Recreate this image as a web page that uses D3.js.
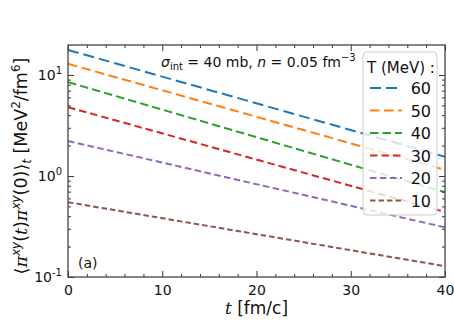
<!DOCTYPE html>
<html>
<head>
<meta charset="utf-8">
<script src="https://cdn.jsdelivr.net/npm/d3@7"></script>
<style>
	body { margin: 0; background: #fff; }
	text { font-family: "DejaVu Sans", sans-serif; fill: #111; }
</style>
</head>
<body>
<div id="idContent"></div>
<script>
// values, t = 0 and t = 40 fm/c
var aTimes = [0, 40];
var aTemps = ["60", "50", "40", "30", "20", "10"];
var aCorr60 = [17.7, 1.55];
var aCorr50 = [12.9, 1.15];
var aCorr40 = [8.5, 0.69];
var aCorr30 = [4.8, 0.44];
var aCorr20 = [2.22, 0.31];
var aCorr10 = [0.55, 0.128];
var aXTicks = [0, 10, 20, 30, 40];
var aYTicks = [0.1, 1, 10];

var aSeries = [aCorr60, aCorr50, aCorr40, aCorr30, aCorr20, aCorr10];
var aColors = ["#1f77b4", "#ff7f0e", "#2ca02c", "#d62728", "#9467bd", "#8c564b"];
var aDashes = ["11,5", "9.5,4.5", "8.5,4", "7.5,4", "6.5,3.5", "5.5,3"];

var margin = { top: 45, right: 9, bottom: 46, left: 68 },
	width = 454 - margin.left - margin.right,
	height = 323 - margin.top - margin.bottom;

var x = d3.scaleLinear().domain([0, 40]).range([0, width]);
var y = d3.scaleLog().domain([0.1, 19.8]).range([height, 0]);

var svg = d3.select("#idContent").append("svg")
	.attr("width", 454)
	.attr("height", 323);

var oChart = svg.append("g")
	.attr("transform", "translate(" + margin.left + "," + margin.top + ")");

// lines
var line = d3.line()
	.x(function (d, i) { return x(aTimes[i]); })
	.y(function (d) { return y(d); });

aSeries.forEach(function (s, i) {
	oChart.append("path")
		.datum(s)
		.attr("d", line)
		.attr("fill", "none")
		.attr("stroke", aColors[i])
		.attr("stroke-width", 2)
		.attr("stroke-dasharray", aDashes[i]);
});

// minor ticks
var aXMinor = d3.range(0, 40.1, 2).filter(function (v) { return v % 10 != 0; });
var aYMinor = [];
[0.1, 1, 10].forEach(function (p) {
	for (var k = 2; k <= 9; k++) {
		if (p * k < 19.8) aYMinor.push(p * k);
	}
});

function tickAxis(oAxis) {
	oAxis.select(".domain").remove();
	oAxis.selectAll(".tick line").attr("stroke", "#333").attr("stroke-width", 1);
}

var fmtNone = function () { return ""; };

// bottom / top
oChart.append("g")
	.attr("transform", "translate(0," + height + ")")
	.call(d3.axisBottom(x).tickValues(aXTicks).tickSizeInner(-6).tickSizeOuter(0).tickPadding(8))
	.call(tickAxis)
	.selectAll("text").attr("font-size", 14).attr("fill", "#111");
oChart.append("g")
	.attr("transform", "translate(0," + height + ")")
	.call(d3.axisBottom(x).tickValues(aXMinor).tickSizeInner(-3).tickSizeOuter(0).tickFormat(fmtNone))
	.call(tickAxis);
oChart.append("g")
	.call(d3.axisTop(x).tickValues(aXTicks).tickSizeInner(-6).tickSizeOuter(0).tickFormat(fmtNone))
	.call(tickAxis);
oChart.append("g")
	.call(d3.axisTop(x).tickValues(aXMinor).tickSizeInner(-3).tickSizeOuter(0).tickFormat(fmtNone))
	.call(tickAxis);

// left / right
oChart.append("g")
	.call(d3.axisLeft(y).tickValues(aYTicks).tickSizeInner(-6).tickSizeOuter(0).tickFormat(fmtNone))
	.call(tickAxis);
oChart.append("g")
	.call(d3.axisLeft(y).tickValues(aYMinor).tickSizeInner(-3).tickSizeOuter(0).tickFormat(fmtNone))
	.call(tickAxis);
oChart.append("g")
	.attr("transform", "translate(" + width + ",0)")
	.call(d3.axisRight(y).tickValues(aYTicks).tickSizeInner(-6).tickSizeOuter(0).tickFormat(fmtNone))
	.call(tickAxis);
oChart.append("g")
	.attr("transform", "translate(" + width + ",0)")
	.call(d3.axisRight(y).tickValues(aYMinor).tickSizeInner(-3).tickSizeOuter(0).tickFormat(fmtNone))
	.call(tickAxis);

// y tick labels as 10^n
aYTicks.forEach(function (v) {
	var t = oChart.append("text")
		.attr("x", -6)
		.attr("y", y(v) + 5)
		.attr("text-anchor", "end")
		.attr("font-size", 14);
	t.append("tspan").text("10");
	t.append("tspan").attr("dy", -6).attr("font-size", 10).text(Math.round(Math.log10(v)));
});

// frame
oChart.append("rect")
	.attr("width", width)
	.attr("height", height)
	.attr("fill", "none")
	.attr("stroke", "#444")
	.attr("stroke-width", 1.3);

// annotation
var oNote = oChart.append("text")
	.attr("x", 93)
	.attr("y", 22)
	.attr("font-size", 14);
oNote.append("tspan").attr("font-style", "italic").text("σ");
oNote.append("tspan").attr("dy", 3).attr("font-size", 10).text("int");
oNote.append("tspan").attr("dy", -3).text(" = 40 mb,  ");
oNote.append("tspan").attr("font-style", "italic").text("n");
oNote.append("tspan").text(" = 0.05 fm");
oNote.append("tspan").attr("dy", -6).attr("font-size", 10).text("−3");

oChart.append("text")
	.attr("x", 10)
	.attr("y", height - 9)
	.attr("font-size", 14)
	.text("(a)");

// legend
var oLegend = oChart.append("g").attr("transform", "translate(" + (363 - margin.left) + "," + (52 - margin.top) + ")");
oLegend.append("rect")
	.attr("width", 74)
	.attr("height", 163)
	.attr("rx", 4)
	.attr("fill", "#fff")
	.attr("fill-opacity", 0.8)
	.attr("stroke", "#ccc");
oLegend.append("text")
	.attr("x", 4)
	.attr("y", 21)
	.attr("font-size", 15)
	.text("T (MeV) :");
aTemps.forEach(function (sTemp, i) {
	var yy = 36 + i * 22.5;
	oLegend.append("line")
		.attr("x1", 7).attr("x2", 39)
		.attr("y1", yy).attr("y2", yy)
		.attr("stroke", aColors[i])
		.attr("stroke-width", 2)
		.attr("stroke-dasharray", aDashes[i]);
	oLegend.append("text")
		.attr("x", 68)
		.attr("y", yy + 6)
		.attr("text-anchor", "end")
		.attr("font-size", 16)
		.text(sTemp);
});

// axis labels
var oXLab = svg.append("text")
	.attr("x", margin.left + width / 2)
	.attr("y", 314)
	.attr("text-anchor", "middle")
	.attr("font-size", 17);
oXLab.append("tspan").attr("font-style", "italic").attr("font-family", "DejaVu Serif").text("t");
oXLab.append("tspan").text(" [fm/c]");

var oYLab = svg.append("text")
	.attr("transform", "translate(27," + (margin.top + height / 2 + 5) + ") rotate(-90)")
	.attr("text-anchor", "middle")
	.attr("font-size", 17.5);
oYLab.append("tspan").text("⟨");
oYLab.append("tspan").attr("font-style", "italic").attr("font-family", "DejaVu Serif").text("π");
oYLab.append("tspan").attr("dy", -7).attr("font-size", 12).attr("font-style", "italic").text("xy");
oYLab.append("tspan").attr("dy", 7).text("(");
oYLab.append("tspan").attr("font-style", "italic").attr("font-family", "DejaVu Serif").text("t");
oYLab.append("tspan").text(")");
oYLab.append("tspan").attr("font-style", "italic").attr("font-family", "DejaVu Serif").text("π");
oYLab.append("tspan").attr("dy", -7).attr("font-size", 12).attr("font-style", "italic").text("xy");
oYLab.append("tspan").attr("dy", 7).text("(0)⟩");
oYLab.append("tspan").attr("dy", 4).attr("font-size", 12).attr("font-style", "italic").text("t");
oYLab.append("tspan").attr("dy", -4).text("  [MeV");
oYLab.append("tspan").attr("dy", -7).attr("font-size", 12).text("2");
oYLab.append("tspan").attr("dy", 7).text("/fm");
oYLab.append("tspan").attr("dy", -7).attr("font-size", 12).text("6");
oYLab.append("tspan").attr("dy", 7).text("]");
</script>
</body>
</html>
